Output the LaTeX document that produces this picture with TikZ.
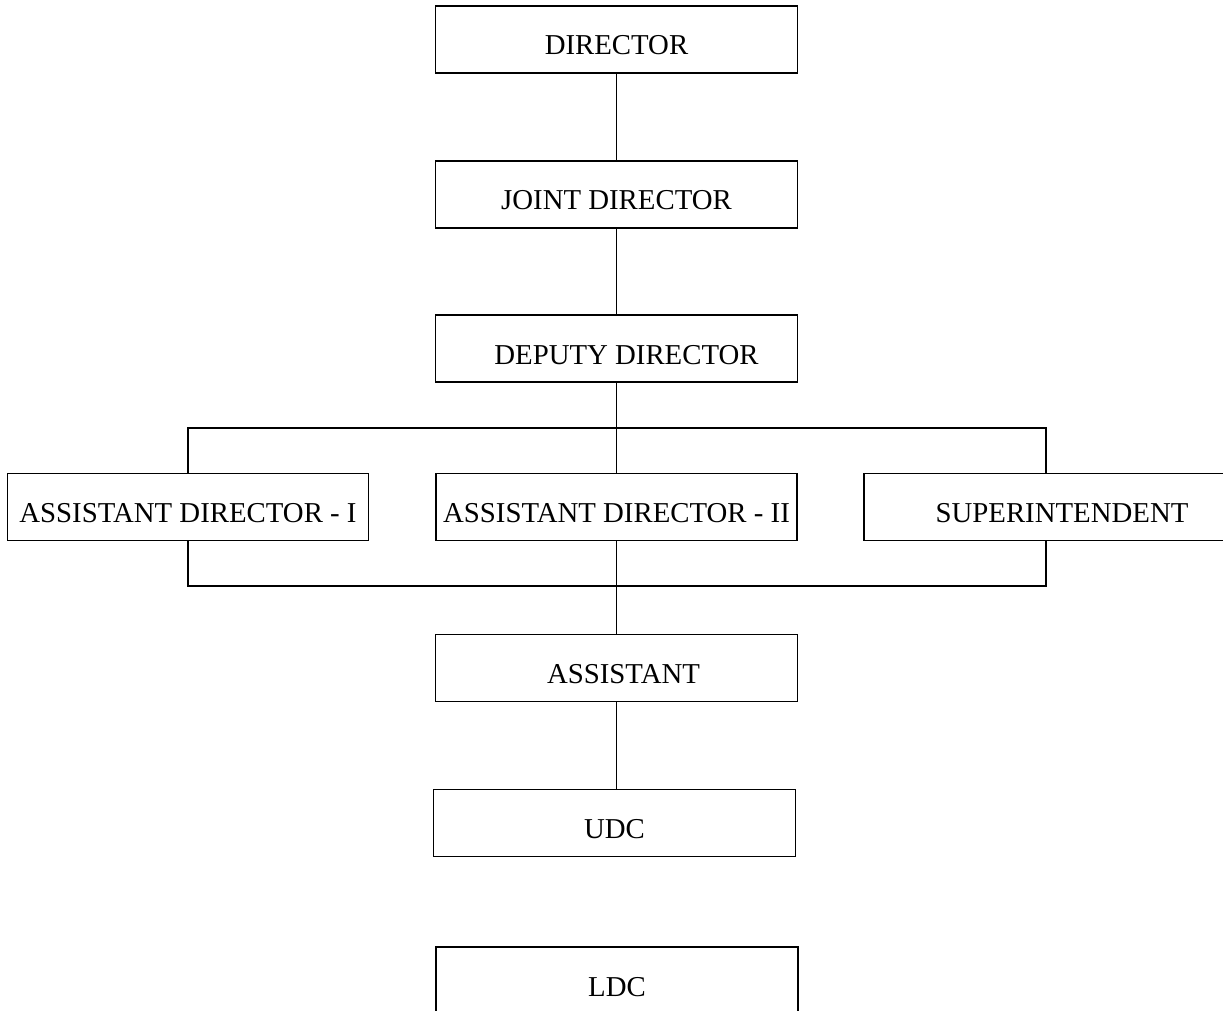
\documentclass[tikz,border=0pt]{standalone}
\usepackage{fontspec}
\setmainfont{Liberation Serif}
\begin{document}
\begin{tikzpicture}[x=1pt,y=-1pt,
  box/.style={draw,line width=1.3pt,rectangle,inner sep=0pt,minimum width=362pt,minimum height=67pt,
    text height=31pt,text depth=0pt,font=\fontsize{28.8}{34}\selectfont},
  conn/.style={line width=1.3pt}]
\useasboundingbox (0,0) rectangle (1223,1011);
\node[box] (dir) at (616.5,39.5) {DIRECTOR};
\node[box] (jd) at (616.5,194.5) {JOINT DIRECTOR};
\node[box] (dd) at (616.5,348.5) {\hspace{20pt}DEPUTY DIRECTOR};
\node[box,minimum width=361pt] (ad1) at (188,507) {ASSISTANT DIRECTOR - I};
\node[box,minimum width=361pt] (ad2) at (616.5,507) {ASSISTANT DIRECTOR - II};
\node[box] (sup) at (1045,507) {\hspace{34pt}SUPERINTENDENT};
\node[box] (asst) at (616.5,668) {\hspace{14pt}ASSISTANT};
\node[box] (udc) at (614.5,823) {UDC};
\node[box] (ldc) at (617,980.5) {LDC};
\coordinate (tl) at (188,428);
\coordinate (tr) at (1046,428);
\coordinate (bl) at (188,586);
\coordinate (br) at (1046,586);
\draw[conn] (dir.south) -- (jd.north);
\draw[conn] (jd.south) -- (dd.north);
\draw[conn] (dd.south) -- (ad2.north);
\draw[conn] (ad1.north) -- (tl) -- (tr) -- (sup.north -| tr);
\draw[conn] (ad1.south) -- (bl) -- (br) -- (sup.south -| br);
\draw[conn] (ad2.south) -- (asst.north);
\draw[conn] (asst.south) -- (asst.south |- udc.north);
\end{tikzpicture}
\end{document}
